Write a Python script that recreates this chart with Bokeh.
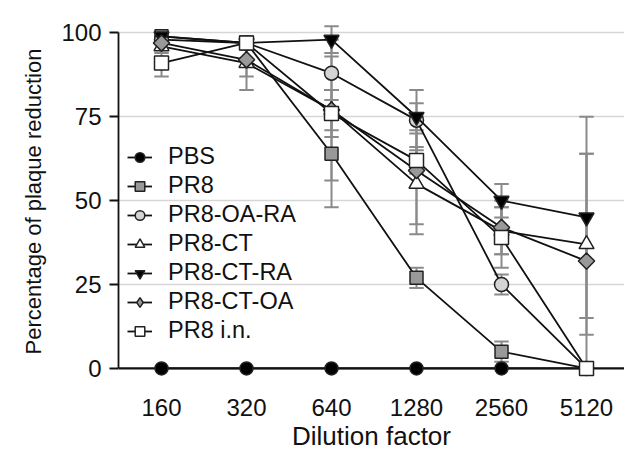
import math
from bokeh.plotting import figure
from bokeh.models import Range1d, Legend, LegendItem, FixedTicker, Span
from bokeh.embed import file_html
from bokeh.resources import INLINE

dilutions = ["160", "320", "640", "1280", "2560", "5120"]
series_names = ["PBS", "PR8", "PR8-OA-RA", "PR8-CT", "PR8-CT-RA", "PR8-CT-OA", "PR8 i.n."]

pbs = [0, 0, 0, 0, 0, 0]
pbs_err = [0, 0, 0, 0, 0, 0]
pr8 = [99, 97, 64, 27, 5, 0]
pr8_err = [1, 1, 16, 3, 3, 0]
pr8_oa_ra = [98, 97, 88, 74, 25, 0]
pr8_oa_ra_err = [1, 1, 5, 9, 3, 0]
pr8_ct = [96, 91, 77, 55, 41, 37]
pr8_ct_err = [2, 8, 21, 15, 7, 27]
pr8_ct_ra = [99, 97, 98, 75, 50, 45]
pr8_ct_ra_err = [1, 2, 4, 4, 5, 30]
pr8_ct_oa = [97, 92, 77, 59, 42, 32]
pr8_ct_oa_err = [2, 5, 6, 16, 8, 32]
pr8_in = [91, 97, 76, 62, 39, 0]
pr8_in_err = [4, 2, 7, 4, 9, 0]

values = [pbs, pr8, pr8_oa_ra, pr8_ct, pr8_ct_ra, pr8_ct_oa, pr8_in]
errors = [pbs_err, pr8_err, pr8_oa_ra_err, pr8_ct_err, pr8_ct_ra_err, pr8_ct_oa_err, pr8_in_err]

y_ticks = [0, 25, 50, 75, 100]

styles = [
    dict(marker="circle", size=13, fill="#000000", angle=0.0, legend_marker=None),
    dict(marker="square", size=13, fill="#999999", angle=0.0, legend_marker=None),
    dict(marker="circle", size=14, fill="#d4d4d4", angle=0.0, legend_marker=None),
    dict(marker="triangle", size=15, fill="#ffffff", angle=0.0, legend_marker=None),
    dict(marker="inverted_triangle", size=15, fill="#000000", angle=0.0, legend_marker=None),
    dict(marker="square", size=11.5, fill="#999999", angle=math.pi / 4, legend_marker="diamond"),
    dict(marker="square", size=14, fill="#ffffff", angle=0.0, legend_marker=None),
]

FONT = "Liberation Sans"
xs = list(range(len(dilutions)))

p = figure(width=624, height=456, output_backend="svg", toolbar_location=None,
           x_range=Range1d(-0.506, 5.447), y_range=Range1d(-4.5, 104),
           min_border_left=118, min_border_right=0, min_border_top=19,
           min_border_bottom=73)
p.outline_line_color = None
p.background_fill_color = "white"

# grid
p.xgrid.visible = False
p.ygrid.ticker = FixedTicker(ticks=y_ticks[1:])
p.ygrid.grid_line_color = "#d6d6d6"
p.ygrid.grid_line_width = 1.5

# y axis
p.yaxis.ticker = FixedTicker(ticks=y_ticks)
p.yaxis.bounds = (0, 100)
p.yaxis.axis_line_color = "#111111"
p.yaxis.axis_line_width = 1.8
p.yaxis.major_tick_line_color = "#111111"
p.yaxis.major_tick_line_width = 1.8
p.yaxis.major_tick_out = 9
p.yaxis.major_tick_in = 0
p.yaxis.minor_tick_line_color = None
p.yaxis.major_label_text_font = FONT
p.yaxis.major_label_text_font_size = "24px"
p.yaxis.major_label_text_color = "#111111"
p.yaxis.major_label_standoff = 8
p.yaxis.axis_label = "Percentage of plaque reduction"
p.yaxis.axis_label_text_font = FONT
p.yaxis.axis_label_text_font_size = "22px"
p.yaxis.axis_label_text_font_style = "normal"
p.yaxis.axis_label_text_color = "#111111"
p.yaxis.axis_label_standoff = 12

# x axis
p.xaxis.ticker = FixedTicker(ticks=xs)
p.xaxis.major_label_overrides = {i: d for i, d in zip(xs, dilutions)}
p.xaxis.axis_line_color = None
p.xaxis.major_tick_line_color = None
p.xaxis.minor_tick_line_color = None
p.xaxis.major_tick_out = 0
p.xaxis.major_tick_in = 0
p.xaxis.major_label_text_font = FONT
p.xaxis.major_label_text_font_size = "24px"
p.xaxis.major_label_text_color = "#111111"
p.xaxis.major_label_standoff = 15
p.xaxis.axis_label = "Dilution factor"
p.xaxis.axis_label_text_font = FONT
p.xaxis.axis_label_text_font_size = "26px"
p.xaxis.axis_label_text_font_style = "normal"
p.xaxis.axis_label_text_color = "#111111"
p.xaxis.axis_label_standoff = 2

zero_line = Span(location=0, dimension="width", line_color="#111111", line_width=2.2,
                 level="underlay")
p.add_layout(zero_line)

# error bars
cap = 0.085
for vals, errs in zip(values, errors):
    lo = [v - e for v, e in zip(vals, errs)]
    hi = [v + e for v, e in zip(vals, errs)]
    ex = [x for x, e in zip(xs, errs) if e > 0]
    elo = [l for l, e in zip(lo, errs) if e > 0]
    ehi = [h for h, e in zip(hi, errs) if e > 0]
    if not ex:
        continue
    p.segment(x0=ex, y0=elo, x1=ex, y1=ehi, line_color="#8a8a8a", line_width=2)
    p.segment(x0=[x - cap for x in ex], y0=elo, x1=[x + cap for x in ex], y1=elo,
              line_color="#8a8a8a", line_width=2)
    p.segment(x0=[x - cap for x in ex], y0=ehi, x1=[x + cap for x in ex], y1=ehi,
              line_color="#8a8a8a", line_width=2)

items = []
for name, vals, st in zip(series_names, values, styles):
    ln = p.line(xs, vals, line_color="#111111", line_width=1.8)
    sc = p.scatter(xs, vals, marker=st["marker"], size=st["size"], angle=st["angle"],
                   fill_color=st["fill"], line_color="#222222", line_width=1.5)
    if st["legend_marker"]:
        # legend-only proxy: no plotted position (NaN), only its marker style is used
        proxy = p.scatter(x=[float("nan")], y=[float("nan")], marker=st["legend_marker"],
                          size=st["size"], fill_color=st["fill"], line_color="#222222",
                          line_width=1.5)
        items.append(LegendItem(label=name, renderers=[ln, proxy]))
    else:
        items.append(LegendItem(label=name, renderers=[ln, sc]))

legend = Legend(items=items, location=(9, 39), orientation="vertical",
                padding=0, margin=0, spacing=2, glyph_width=25, glyph_height=24,
                label_height=27, label_standoff=16,
                label_text_font=FONT, label_text_font_size="23.5px",
                label_text_color="#111111", border_line_color=None,
                background_fill_alpha=0)
p.add_layout(legend)

open("out.html", "w").write(file_html(p, INLINE))
